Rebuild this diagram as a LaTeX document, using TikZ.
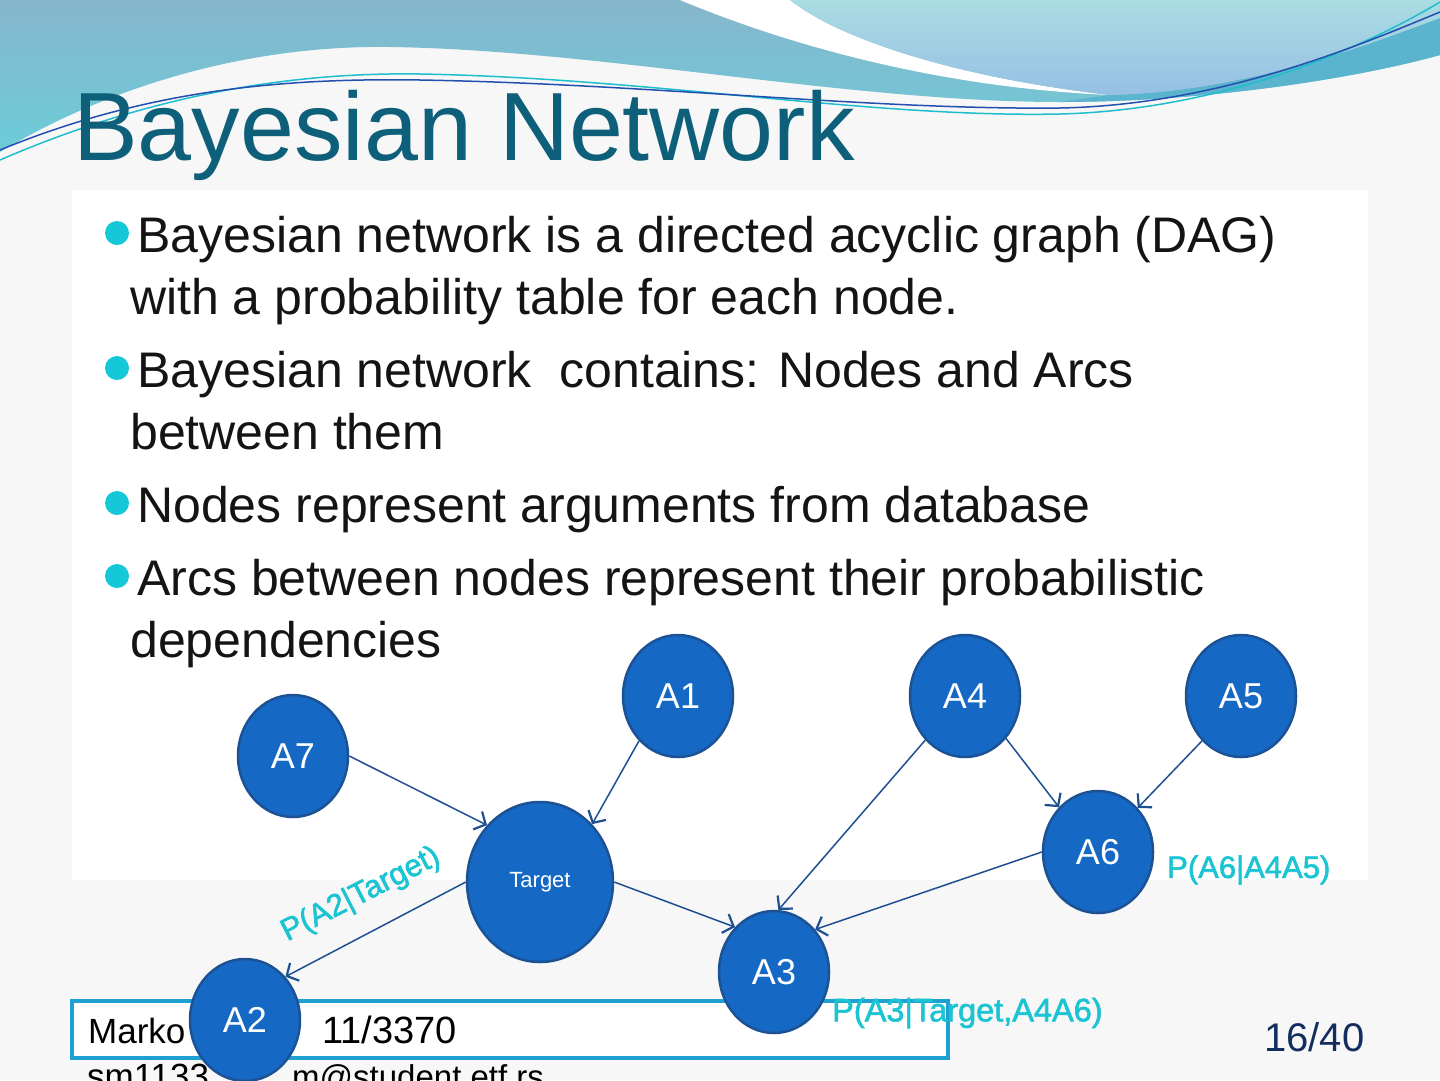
\documentclass[tikz,border=0pt]{standalone}
\usepackage{fontspec}
\setmainfont{Liberation Sans}
\newfontfamily\labfont[FakeBold=1.8]{Liberation Sans}
\usetikzlibrary{shapes.geometric,arrows.meta}
\definecolor{nodefill}{RGB}{21,105,196}
\definecolor{nodeline}{RGB}{28,82,148}
\definecolor{edgecol}{RGB}{30,80,145}
\definecolor{labcol}{RGB}{26,196,210}
\definecolor{titlecol}{RGB}{14,96,122}
\definecolor{bulletcol}{RGB}{20,200,215}
\definecolor{footbox}{RGB}{30,160,210}
\definecolor{pagecol}{RGB}{20,45,95}
\definecolor{waveA}{RGB}{134,182,204}
\definecolor{waveAb}{RGB}{108,204,216}
\definecolor{waveB}{RGB}{170,220,226}
\definecolor{waveBb}{RGB}{150,192,228}
\definecolor{waveC}{RGB}{90,180,205}
\definecolor{bgcol}{RGB}{247,247,247}
\definecolor{lineC}{RGB}{30,190,205}
\definecolor{lineB}{RGB}{35,80,175}
\tikzset{
  bnode/.style={ellipse, draw=nodeline, line width=2.5pt, fill=nodefill,
    minimum width=110pt, minimum height=122pt, inner sep=0pt, text=white,
    font=\fontsize{36}{40}\selectfont},
  arc/.style={draw=edgecol, line width=1.5pt,
    -{Straight Barb[length=9pt,width=20pt,line width=2.2pt]}},
  btext/.style={anchor=base west, inner sep=0pt, text=black!92,
    font=\fontsize{50}{60}\selectfont},
  plabel/.style={inner sep=0pt, text=labcol, font=\labfont\fontsize{31}{36}\selectfont},
  foot/.style={anchor=base west, inner sep=0pt, text=black,
    font=\fontsize{35}{40}\selectfont},
}
\begin{document}
\begin{tikzpicture}[x=1pt,y=-1pt]
\useasboundingbox (0,0) rectangle (1440,1080);
% background
\fill[bgcol] (0,0) rectangle (1440,1080);
% top wave decoration
\shade[top color=waveA, bottom color=waveAb] (0,0) -- (1440,0) -- (1440,55)
  .. controls (1350,80) and (1200,102) .. (1060,102)
  .. controls (850,102) and (600,50) .. (390,47)
  .. controls (260,45) and (120,80) .. (0,152) -- cycle;
\fill[waveC] (1060,102) .. controls (1200,102) and (1350,80) .. (1440,55)
  -- (1440,18) .. controls (1380,40) and (1250,92) .. (1110,95) -- cycle;
\fill[white] (680,0) .. controls (800,50) and (950,88) .. (1110,95)
  .. controls (960,78) and (840,40) .. (790,0) -- cycle;
\shade[top color=waveB, bottom color=waveBb] (790,0)
  .. controls (840,40) and (960,78) .. (1110,95)
  .. controls (1250,92) and (1380,40) .. (1440,18) -- (1440,0) -- cycle;
\draw[line width=1.5pt, lineC] (0,160) .. controls (150,95) and (290,72) .. (420,74)
  .. controls (650,78) and (870,118) .. (1060,114)
  .. controls (1220,110) and (1360,50) .. (1440,2);
\draw[line width=1.5pt, lineB] (0,150) .. controls (150,88) and (290,78) .. (420,80)
  .. controls (650,84) and (870,110) .. (1060,108)
  .. controls (1220,105) and (1360,45) .. (1440,12);
% title
\node[anchor=base west, inner sep=0pt, text=titlecol, font=\fontsize{97}{110}\selectfont]
  (title) at (73,160) {Bayesian Network};
% content area
\fill[white] (72,190) rectangle (1368,880);
% bullets and text
\fill[bulletcol] (117,233) circle (12pt);
\fill[bulletcol] (117,368) circle (12pt);
\fill[bulletcol] (117,503) circle (12pt);
\fill[bulletcol] (117,576) circle (12pt);
\node[btext] (l1) at (137,252) {Bayesian network is a directed acyclic graph (DAG)};
\node[btext] (l2) at (130,314) {with a probability table for each node.};
\node[btext] (l3) at (137,387) {Bayesian network\ \ contains: Nodes and Arcs};
\node[btext] (l4) at (130,449) {between them};
\node[btext] (l5) at (137,522) {Nodes represent arguments from database};
\node[btext] (l6) at (137,595) {Arcs between nodes represent their probabilistic};
\node[btext] (l7) at (130,657) {dependencies};
% footer
\draw[footbox, line width=3.5pt, fill=white] (72,1001) rectangle (948,1058);
\node[foot] (f1) at (88,1043) {Marko};
\node[foot, font=\fontsize{38}{42}\selectfont] (f2) at (322,1043) {11/3370};
\node[foot] (f3) at (87,1088) {sm1133};
\node[foot, font=\fontsize{33}{38}\selectfont] (f4) at (292,1088) {m@student.etf.rs};
\node[anchor=base west, inner sep=0pt, text=pagecol, font=\fontsize{40}{44}\selectfont]
  (pg) at (1264,1051) {16/40};
% nodes
\node[bnode] (A1) at (678,696) {A1};
\node[bnode] (A4) at (965,696) {A4};
\node[bnode] (A5) at (1241,696) {A5};
\node[bnode] (A7) at (293,756) {A7};
\node[bnode, minimum width=146pt, minimum height=160pt, font=\fontsize{22}{26}\selectfont] (T) at (540,882) {Target};
\node[bnode] (A6) at (1098,852) {A6};
\node[bnode] (A3) at (774,972) {A3};
\node[bnode] (A2) at (245,1020) {A2};
% arcs
\draw[arc] (A7.east) -- (T.133);
\draw[arc] (A1.229) -- (T.48);
\draw[arc] (A4.228) -- (A3.86);
\draw[arc] (A4.314) -- (A6.131);
\draw[arc] (A5.229) -- (A6.48);
\draw[arc] (A6.180) -- (A3.46);
\draw[arc] (T.east) -- (A3.131);
\draw[arc] (T.west) -- (A2.47);
% labels
\node[plabel, rotate=27] (p2) at (361,895) {P(A2|Target)};
\node[plabel, anchor=west] (p6) at (1167,870) {P(A6|A4A5)};
\node[plabel, anchor=west, font=\labfont\fontsize{32.5}{36}\selectfont] (p3) at (832,1013) {P(A3|Target,A4A6)};
\end{tikzpicture}
\end{document}
